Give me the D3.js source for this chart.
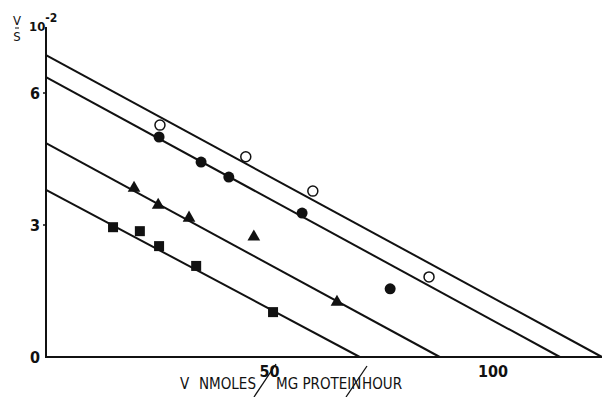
<!DOCTYPE html>
<html>
<head>
<script src="https://cdn.jsdelivr.net/npm/d3@7"></script>
<style>
body { margin: 0; background: #fff; }
.tick-label { font-family: "DejaVu Sans Condensed", "DejaVu Sans", sans-serif; font-weight: bold; font-size: 16px; fill: #111; }
.axis-title { font-family: "Liberation Sans Narrow", "DejaVu Sans Condensed", sans-serif; font-size: 15px; fill: #111; }
</style>
</head>
<body>
<svg width="602" height="397"></svg>
<script>

// values (x: V nmoles/mg protein/hour, y: V/S x 10^-2)
var xTicks = [50, 100];
var yTicks = [0, 3, 6];

var openCircles = [[25.5, 5.27], [44.7, 4.55], [59.7, 3.77], [85.7, 1.82]];
var filledCircles = [[25.3, 5.0], [34.7, 4.43], [40.9, 4.09], [57.3, 3.27], [77.0, 1.55]];
var triangles = [[19.7, 3.84], [25.1, 3.45], [32.0, 3.16], [46.5, 2.73], [65.1, 1.25]];
var squares = [[15.0, 2.95], [21.0, 2.86], [25.3, 2.52], [33.6, 2.07], [50.8, 1.02]];

// fitted lines: y intercept and x intercept
var fitLines = [
	{name: "open", yInt: 6.86, xInt: 124.4},
	{name: "filled", yInt: 6.36, xInt: 115.0},
	{name: "triangle", yInt: 4.86, xInt: 88.1},
	{name: "square", yInt: 3.80, xInt: 70.2}
];

var svg = d3.select("svg");

var x = d3.scaleLinear().domain([0, 124.4]).range([46, 602]);
var y = d3.scaleLinear().domain([0, 7.5]).range([357, 27]);

// axes
var axis = svg.append("g")
	.attr("stroke", "#111")
	.attr("stroke-width", 2)
	.attr("fill", "none");

axis.append("line")
	.attr("x1", x(0)).attr("y1", y(0))
	.attr("x2", x(0)).attr("y2", y(7.5));
axis.append("line")
	.attr("x1", x(0) - 1).attr("y1", y(0))
	.attr("x2", x(124.4)).attr("y2", y(0));

// small ticks
svg.selectAll(".ytick")
	.data(yTicks.filter(function(d) { return d > 0; }))
	.enter().append("line")
	.attr("stroke", "#111").attr("stroke-width", 1.5)
	.attr("x1", x(0) - 3).attr("x2", x(0))
	.attr("y1", function(d) { return y(d); })
	.attr("y2", function(d) { return y(d); });

svg.selectAll(".ylab")
	.data(yTicks)
	.enter().append("text")
	.attr("class", "tick-label")
	.attr("x", 35)
	.attr("y", function(d) { return y(d) + 6; })
	.attr("text-anchor", "middle")
	.text(function(d) { return d; });

svg.selectAll(".xlab")
	.data(xTicks)
	.enter().append("text")
	.attr("class", "tick-label")
	.attr("x", function(d) { return x(d); })
	.attr("y", 377)
	.attr("text-anchor", "middle")
	.text(function(d) { return d; });

// y axis title  V/S 10^-2
svg.append("text").attr("class", "axis-title")
	.style("font-size", "13px")
	.attr("x", 17).attr("y", 25).attr("text-anchor", "middle").text("V");
svg.append("line").attr("stroke", "#111").attr("stroke-width", 1)
	.attr("x1", 15).attr("x2", 19).attr("y1", 28).attr("y2", 28);
svg.append("text").attr("class", "axis-title")
	.style("font-size", "13px")
	.attr("x", 17).attr("y", 41).attr("text-anchor", "middle").text("S");
var pow = svg.append("text").attr("class", "tick-label")
	.style("font-size", "13px")
	.attr("x", 29).attr("y", 31);
pow.append("tspan").text("10");
pow.append("tspan").attr("dy", -9).style("font-size", "12px").text("-2");

// x axis title with long oblique slashes
var xTitle = svg.append("text").attr("class", "axis-title")
	.attr("y", 389);
xTitle.append("tspan").attr("x", 180).text("V");
xTitle.append("tspan").attr("x", 199).text("NMOLES");
xTitle.append("tspan").attr("x", 276).text("MG PROTEIN");
xTitle.append("tspan").attr("x", 362).text("HOUR");

svg.append("line").attr("stroke", "#111").attr("stroke-width", 1.3)
	.attr("x1", 254).attr("y1", 397).attr("x2", 276).attr("y2", 364);
svg.append("line").attr("stroke", "#111").attr("stroke-width", 1.3)
	.attr("x1", 346).attr("y1", 397).attr("x2", 367).attr("y2", 366);

// fitted lines
svg.append("g")
	.selectAll("line")
	.data(fitLines)
	.enter().append("line")
	.attr("stroke", "#111")
	.attr("stroke-width", 2)
	.attr("x1", x(0))
	.attr("y1", function(d) { return y(d.yInt); })
	.attr("x2", function(d) { return x(d.xInt); })
	.attr("y2", y(0));

// markers
svg.append("g").selectAll("circle")
	.data(openCircles)
	.enter().append("circle")
	.attr("cx", function(d) { return x(d[0]); })
	.attr("cy", function(d) { return y(d[1]); })
	.attr("r", 5)
	.attr("fill", "#fff")
	.attr("stroke", "#111")
	.attr("stroke-width", 1.5);

svg.append("g").selectAll("circle")
	.data(filledCircles)
	.enter().append("circle")
	.attr("cx", function(d) { return x(d[0]); })
	.attr("cy", function(d) { return y(d[1]); })
	.attr("r", 5.5)
	.attr("fill", "#111");

var tri = d3.symbol().type(d3.symbolTriangle).size(70);
svg.append("g").selectAll("path")
	.data(triangles)
	.enter().append("path")
	.attr("d", tri)
	.attr("transform", function(d) { return "translate(" + x(d[0]) + "," + y(d[1]) + ")"; })
	.attr("fill", "#111");

svg.append("g").selectAll("rect")
	.data(squares)
	.enter().append("rect")
	.attr("x", function(d) { return x(d[0]) - 5; })
	.attr("y", function(d) { return y(d[1]) - 5; })
	.attr("width", 10)
	.attr("height", 10)
	.attr("fill", "#111");

</script>
</body>
</html>
